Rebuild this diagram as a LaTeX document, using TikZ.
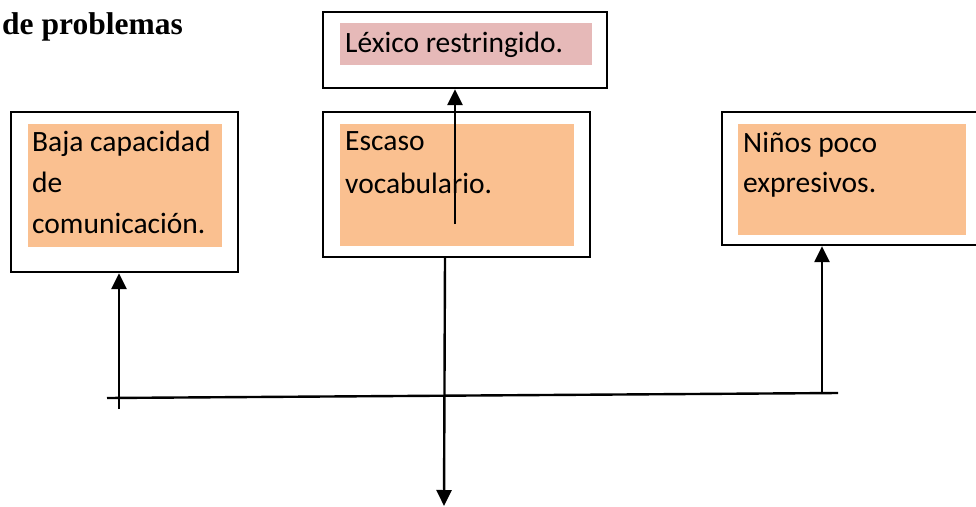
\documentclass[tikz,border=0pt]{standalone}
\usepackage{fontspec}
\setmainfont{Carlito}
\newfontfamily\boxfont{Carlito}
\newfontfamily\titlefont{Liberation Serif}
\usetikzlibrary{arrows.meta,calc}
\definecolor{orangefill}{HTML}{FAC090}
\definecolor{pinkfill}{HTML}{E6B9B8}
\begin{document}
\begin{tikzpicture}[x=1pt,y=-1pt,
  outerbox/.style={draw=black,line width=2.3pt,fill=white,rectangle,inner sep=0pt},
  fillbox/.style={fill=#1,draw=none,rectangle,inner sep=0pt},
  txt/.style={anchor=base west,inner sep=0pt,font=\boxfont\fontsize{29.5}{34}\selectfont},
  conn/.style={line width=2.4pt,draw=black},
  arr/.style={conn,-{Triangle[width=15pt,length=16pt]}},
]
\useasboundingbox (0,0) rectangle (976,506);
\begin{scope}
\clip (0,0) rectangle (976,506);
% title
\node[anchor=base west,inner sep=0pt,font=\titlefont\bfseries\fontsize{31.5}{36}\selectfont] (title) at (2,34) {de problemas};

% top box
\node[outerbox,minimum width=284pt,minimum height=76pt] (topbox) at (465,50) {};
\node[fillbox=pinkfill,minimum width=252pt,minimum height=42pt] (topfill) at (466,44) {};
\node[txt] (toptxt) at (345,52) {Léxico restringido.};

% middle box
\node[outerbox,minimum width=267pt,minimum height=145pt] (midbox) at (456.5,184.5) {};
\node[fillbox=orangefill,minimum width=234pt,minimum height=122pt] (midfill) at (457,185) {};
\node[txt] (midtxta) at (345,150) {Escaso};
\node[txt] (midtxtb) at (345,193) {vocabulario.};

% left box
\node[outerbox,minimum width=227pt,minimum height=160pt] (leftbox) at (124.5,192) {};
\node[fillbox=orangefill,minimum width=194pt,minimum height=123pt] (leftfill) at (125,185.5) {};
\node[txt] (lefttxta) at (32,151) {Baja capacidad};
\node[txt] (lefttxtb) at (32,192) {de};
\node[txt] (lefttxtc) at (32,233) {comunicación.};

% right box
\node[outerbox,minimum width=280pt,minimum height=133pt] (rightbox) at (862,178.5) {};
\node[fillbox=orangefill,minimum width=228pt,minimum height=111pt] (rightfill) at (852,179.5) {};
\node[txt] (righttxta) at (743,152) {Niños poco};
\node[txt] (righttxtb) at (743,192) {expresivos.};

% connectors
\coordinate (upstart) at (455,224);
\draw[arr] (upstart) -- (upstart |- topbox.south);

\coordinate (downstart) at (445,257);
\coordinate (downend) at (444,506);
\draw[arr] (downstart) -- (downend);

\coordinate (hl) at (107,398);
\coordinate (hr) at (838,393);
\draw[conn] (hl) -- (hr);

\coordinate (lstart) at (119,409);
\draw[arr] (lstart) -- (lstart |- leftbox.south);

\coordinate (rstart) at (822,393);
\draw[arr] (rstart) -- (rstart |- rightbox.south);
\end{scope}
\end{tikzpicture}
\end{document}
